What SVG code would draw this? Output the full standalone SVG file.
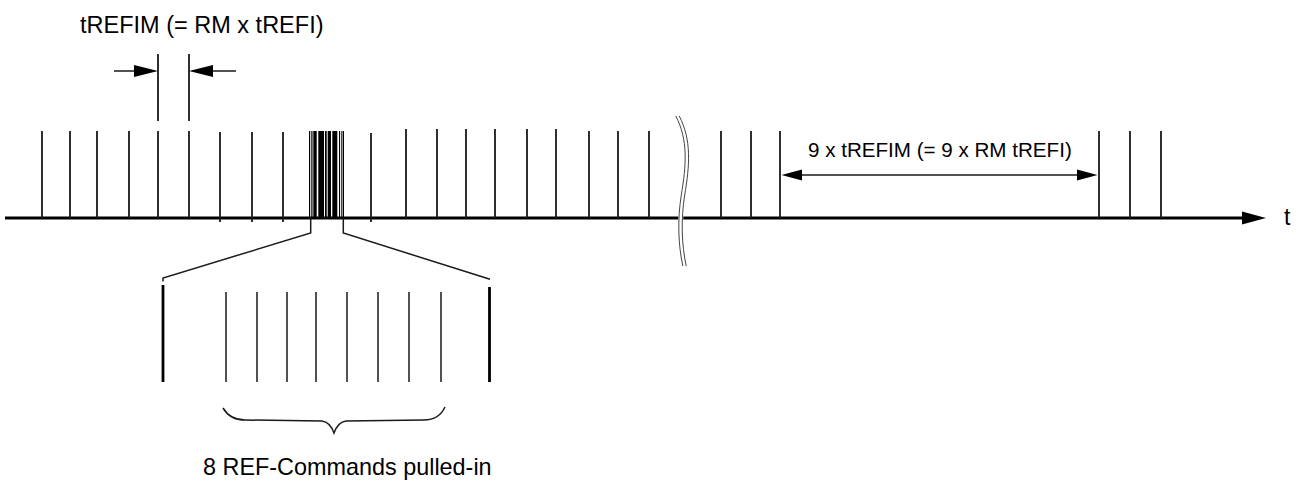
<svg xmlns="http://www.w3.org/2000/svg" width="1300" height="481" viewBox="0 0 1300 481">
  <defs>
    <style>
      .lbl { font-family: "Liberation Sans", Arial, sans-serif; fill: #000; }
      .tick { stroke: #1a1a1a; stroke-width: 1.8; fill: none; }
      .thin { stroke: #1a1a1a; stroke-width: 1.5; fill: none; }
      .axis { stroke: #000; stroke-width: 3; fill: none; }
      .head { fill: #000; stroke: none; }
    </style>
  </defs>
  <rect width="1300" height="481" fill="#fff"/>

  <g id="axis">
    <line class="axis" x1="5" y1="218" x2="1246" y2="218"/>
    <polygon class="head" points="1242,211.5 1266,218 1242,224.5"/>
    <text class="lbl" x="1284" y="225" font-size="23">t</text>
  </g>

  <g id="ticks">
    <path class="tick" d="M42,131V218 M70,131V218 M97,131V218 M129,131V218 M158,131V218 M189,131V218 M220,132V222 M252,132V222 M283,132V222 M371,133V222 M406,129V218 M437,129V218 M466,129V218 M495,129V218 M527,129V218 M556,129V218 M589,131V218 M618,131V218 M649,131V218 M721,131V218 M751,131V218 M780,131V218 M1099,131V218 M1130,131V218 M1161,131V218"/>
  </g>

  <g id="dense-block" fill="#000">
    <rect x="309" y="131" width="1.2" height="87"/>
    <rect x="311.3" y="131" width="1.2" height="87"/>
    <rect x="313.3" y="131" width="3.4" height="87"/>
    <rect x="318.3" y="131" width="5.7" height="87"/>
    <rect x="325" y="131" width="1.7" height="87"/>
    <rect x="327.7" y="131" width="3.3" height="87"/>
    <rect x="332.3" y="131" width="5" height="87"/>
    <rect x="339" y="131" width="1.1" height="87"/>
    <rect x="341.3" y="131" width="1" height="87"/>
    <rect x="342.8" y="131" width="1.2" height="87"/>
  </g>

  <g id="break">
    <path d="M677.5,116 C690,140 688,165 683,195 C679,220 680,245 684.5,266" stroke="#fff" stroke-width="5" fill="none"/>
    <path d="M675.8,116 C688.3,140 686.3,165 681.3,195 C677.3,220 678.3,245 682.8,266" stroke="#444" stroke-width="1" fill="none"/>
    <path d="M679.2,116 C691.7,140 689.7,165 684.7,195 C680.7,220 681.7,245 686.2,266" stroke="#444" stroke-width="1" fill="none"/>
  </g>

  <g id="trefim-marker">
    <text class="lbl" x="80" y="33" font-size="23.5">tREFIM (= RM x tREFI)</text>
    <path class="tick" d="M158,54V121 M189,54V121"/>
    <line class="thin" x1="114" y1="71" x2="138" y2="71" stroke-width="2"/>
    <polygon class="head" points="134,65 158,71 134,77"/>
    <line class="thin" x1="236" y1="71" x2="210" y2="71" stroke-width="2"/>
    <polygon class="head" points="213,65 189,71 213,77"/>
  </g>

  <g id="nine-trefim">
    <text class="lbl" x="808" y="157" font-size="20.6">9 x tREFIM (= 9 x RM tREFI)</text>
    <line class="thin" x1="798" y1="175" x2="1081" y2="175"/>
    <polygon class="head" points="802,169.5 781.5,175 802,180.5"/>
    <polygon class="head" points="1077,169.5 1097.5,175 1077,180.5"/>
  </g>

  <g id="zoom-connectors">
    <path class="thin" d="M310.7,218V233L163,278V281.5" stroke-width="1.4"/>
    <path class="thin" d="M343.3,218V233L490,279.3" stroke-width="1.4"/>
  </g>

  <g id="zoom-detail">
    <line x1="163" y1="285" x2="163" y2="382" stroke="#000" stroke-width="2.8"/>
    <line x1="489.5" y1="287" x2="489.5" y2="382" stroke="#000" stroke-width="2.8"/>
    <path class="thin" d="M226,292V382 M257,292V382 M287,292V382 M316,292V382 M347,292V382 M378,292V382 M409,292V382 M441,292V382"/>
  </g>

  <g id="brace-label">
    <path d="M223,408 Q230,420 245,420 L322,421 Q330,422 334,433 Q338,422 346,421 L424,420 Q439,420 445,407" stroke="#1a1a1a" stroke-width="1.5" fill="none"/>
    <text class="lbl" x="203" y="475" font-size="23.4">8 REF-Commands pulled-in</text>
  </g>
</svg>
